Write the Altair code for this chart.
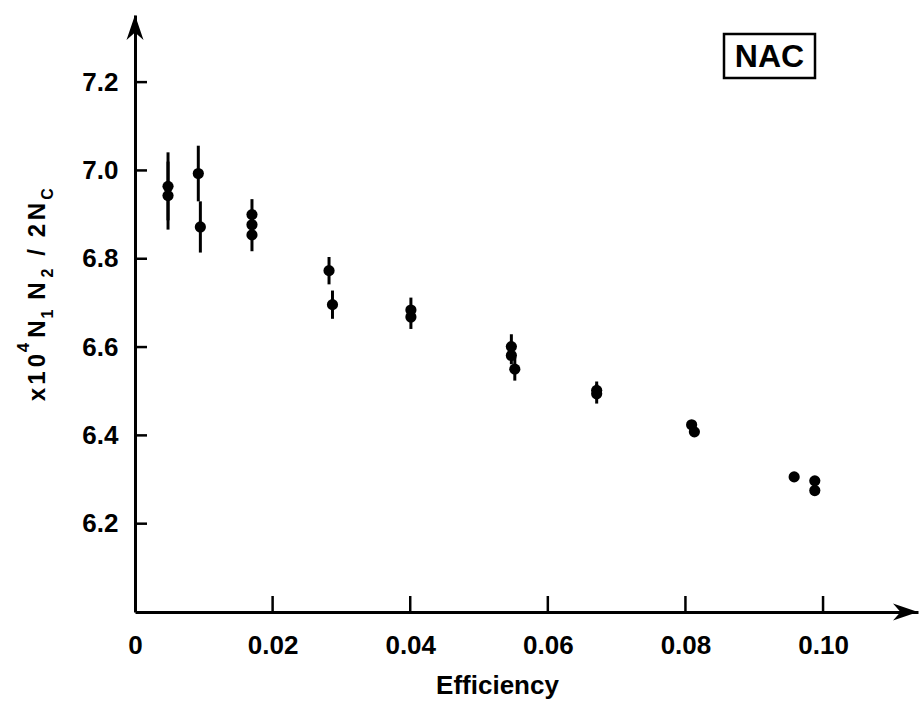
import altair as alt
import pandas as pd

# ---- data ----
efficiency = [0.0048, 0.0048, 0.0092, 0.0095, 0.0170, 0.0170, 0.0170, 0.0282, 0.0287,
              0.0401, 0.0401, 0.0547, 0.0547, 0.0552, 0.0671, 0.0671, 0.0809, 0.0813,
              0.0958, 0.0988, 0.0988]
value = [6.964, 6.943, 6.993, 6.872, 6.900, 6.877, 6.854, 6.773, 6.696,
         6.684, 6.668, 6.601, 6.581, 6.550, 6.502, 6.494, 6.424, 6.408,
         6.306, 6.297, 6.275]
error = [0.077, 0.077, 0.063, 0.058, 0.035, 0.030, 0.037, 0.031, 0.032,
         0.028, 0.027, 0.028, 0.020, 0.026, 0.020, 0.022, 0.010, 0.010,
         0.008, 0.008, 0.008]

x_ticks = [0.02, 0.04, 0.06, 0.08, 0.10]
x_labels = [0, 0.02, 0.04, 0.06, 0.08, 0.10]
y_ticks = [6.2, 6.4, 6.6, 6.8, 7.0, 7.2]
x_domain = [0, 0.1138]
y_domain = [6.0, 7.352]

FONT = "Liberation Sans"

df = pd.DataFrame({"eff": efficiency, "val": value, "err": error})
df["lo"] = df["val"] - df["err"]
df["hi"] = df["val"] + df["err"]

xs = alt.Scale(domain=x_domain, nice=False, zero=False)
ys = alt.Scale(domain=y_domain, nice=False, zero=False)

x_axis = alt.Axis(values=x_labels, labelExpr="datum.value == 0 ? '0' : format(datum.value, '.2f')",
                  ticks=False, tickSize=0, grid=False, domainWidth=3, domainColor="black",
                  labelFont=FONT, labelFontWeight="bold", labelFontSize=26, labelColor="black",
                  labelPadding=20, labelFlush=False, labelOverlap=False,
                  title="Efficiency", titleFont=FONT, titleFontWeight="bold", titleFontSize=26,
                  titleColor="black", titleX=362, titleY=81, titleBaseline="alphabetic",
                  titleAnchor="start", titleAlign="center")
y_axis = alt.Axis(values=y_ticks, format=".1f", ticks=False, tickSize=0, grid=False,
                  domainWidth=3, domainColor="black",
                  labelFont=FONT, labelFontWeight="bold", labelFontSize=26, labelColor="black",
                  labelPadding=17, labelFlush=False, labelOverlap=False, title=None)

base = alt.Chart(df)

bars = base.mark_rule(color="black", strokeWidth=3).encode(
    x=alt.X("eff:Q", scale=xs, axis=x_axis),
    y=alt.Y("lo:Q", scale=ys, axis=y_axis),
    y2="hi:Q",
)
dots = base.mark_circle(color="black", size=125, opacity=1).encode(
    x=alt.X("eff:Q", scale=xs),
    y=alt.Y("val:Q", scale=ys),
)

xt = alt.Chart(pd.DataFrame({"t": x_ticks, "b": [y_domain[0]] * len(x_ticks)})).mark_tick(
    orient="vertical", size=16, thickness=2.5, color="black", yOffset=-8, opacity=1
).encode(x=alt.X("t:Q", scale=xs), y=alt.Y("b:Q", scale=ys))

yt = alt.Chart(pd.DataFrame({"t": y_ticks, "b": [x_domain[0]] * len(y_ticks)})).mark_tick(
    orient="horizontal", size=12, thickness=2.5, color="black", xOffset=6, opacity=1
).encode(y=alt.Y("t:Q", scale=ys), x=alt.X("b:Q", scale=xs))

up_arrow = alt.Chart(pd.DataFrame({"x": [x_domain[0]], "y": [y_domain[1]]})).mark_point(
    shape="M0,0 L0.68,2 L0,1.4 L-0.68,2 Z", filled=True, size=625, color="black",
    opacity=1, strokeWidth=0
).encode(x=alt.X("x:Q", scale=xs), y=alt.Y("y:Q", scale=ys))

right_arrow = alt.Chart(pd.DataFrame({"x": [x_domain[1]], "y": [y_domain[0]]})).mark_point(
    shape="M0,0 L-2,0.68 L-1.4,0 L-2,-0.68 Z", filled=True, size=625, color="black",
    opacity=1, strokeWidth=0
).encode(x=alt.X("x:Q", scale=xs), y=alt.Y("y:Q", scale=ys))

# y-axis title drawn in pieces (sub/superscripts); layout in plot pixels
LEFT, TOP = 135, 15
title_parts = [("x", 394.5, 45, 24), ("1", 378, 45, 24), ("0", 360.5, 45, 24),
               ("4", 347.5, 29, 17), ("N", 329, 45, 24), ("1", 314, 53, 16),
               ("N", 291, 45, 24), ("2", 273, 53, 16), ("/", 252.5, 45, 24),
               ("2", 230.5, 45, 24), ("N", 211.5, 45, 24), ("C", 194, 53, 16)]
one = alt.Data(values=[{}])
title_layers = []
for txt, yc, xb, fs in title_parts:
    title_layers.append(
        alt.Chart(one).mark_text(text=txt, angle=270, align="center", baseline="alphabetic",
                                 font=FONT, fontWeight="bold", fontSize=fs, color="black")
        .encode(x=alt.value(xb - LEFT), y=alt.value(yc - TOP))
    )

# NAC label box
box = alt.Chart(one).mark_rect(fill="white", stroke="black", strokeWidth=2.5).encode(
    x=alt.value(724 - LEFT), x2=alt.value(815 - LEFT),
    y=alt.value(34 - TOP), y2=alt.value(78 - TOP))
nac = alt.Chart(one).mark_text(text="NAC", align="center", baseline="middle", font=FONT,
                               fontWeight="bold", fontSize=32, color="black").encode(
    x=alt.value(769.5 - LEFT), y=alt.value(57 - TOP))

chart = alt.layer(bars, dots, xt, yt, up_arrow, right_arrow, box, nac, *title_layers).properties(
    width=783, height=597,
    padding={"left": LEFT, "top": TOP, "right": 4, "bottom": 91},
    autosize=alt.AutoSizeParams(type="none"),
    background="white",
).configure_view(stroke=None)

chart.save("out.html", embed_options={"renderer": "svg", "actions": False})
